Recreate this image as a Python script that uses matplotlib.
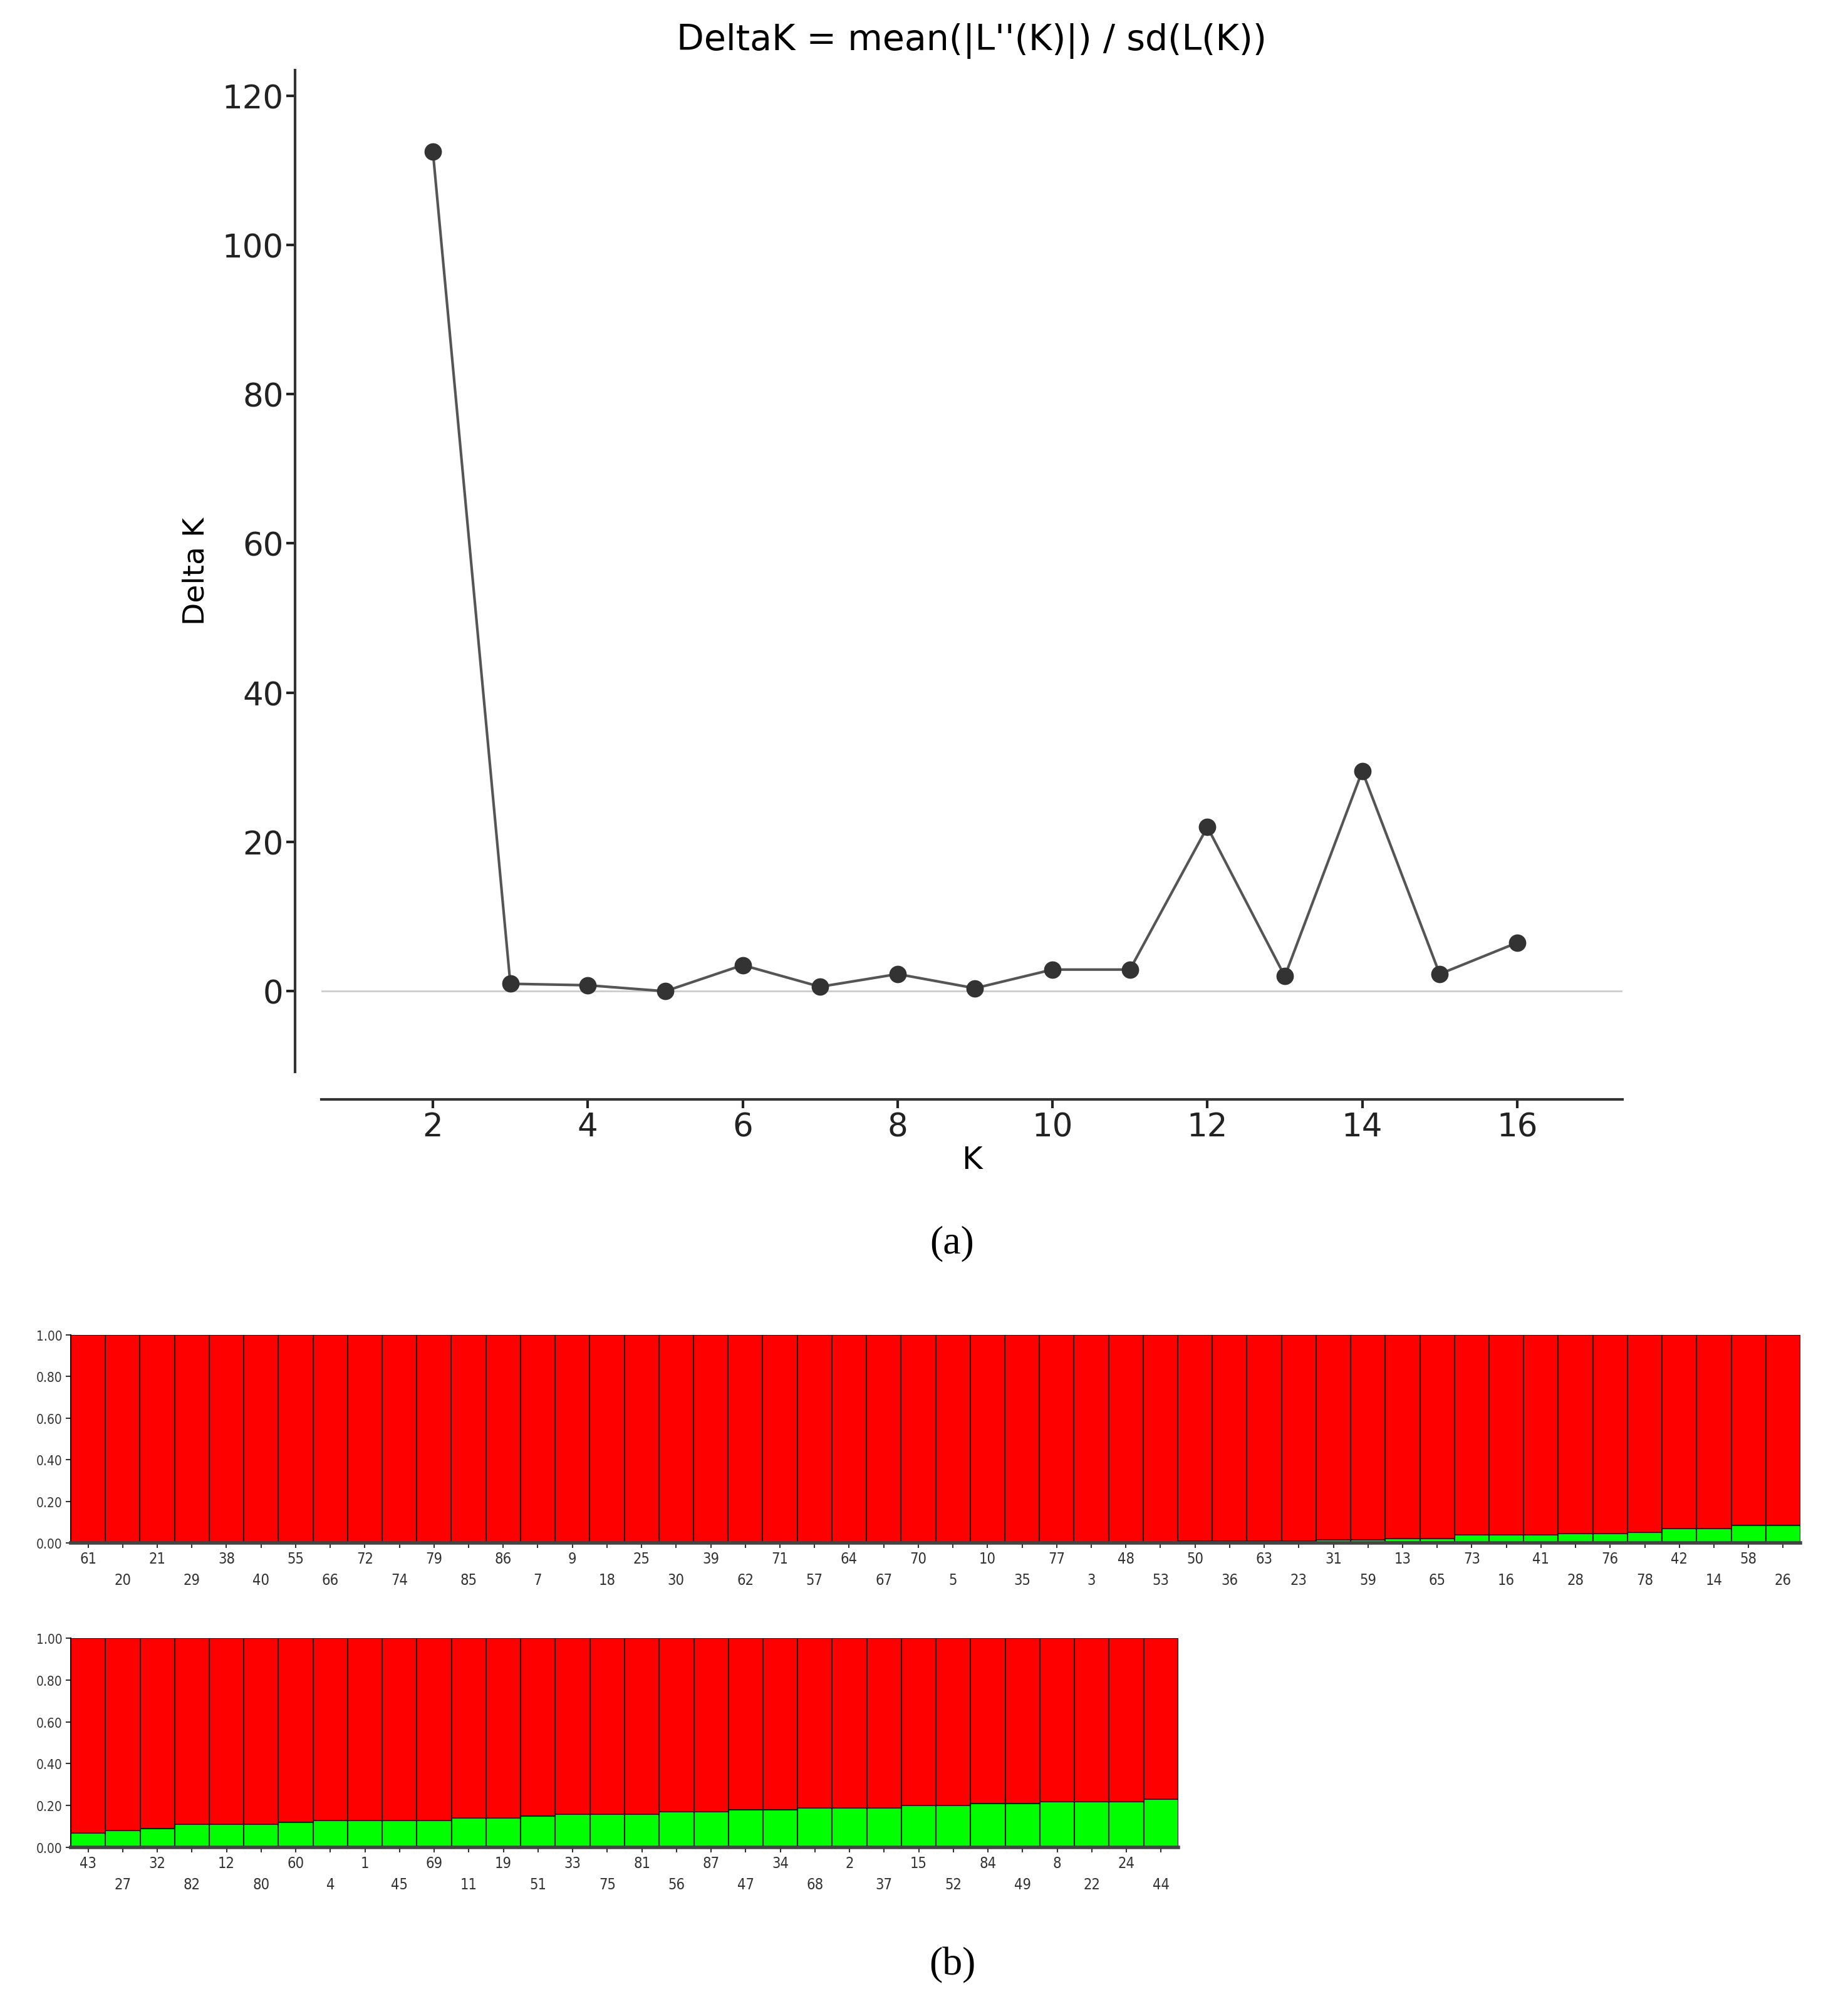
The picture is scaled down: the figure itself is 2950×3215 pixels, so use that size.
import matplotlib
matplotlib.use("Agg")
import matplotlib.pyplot as plt
import numpy as np

K = [2, 3, 4, 5, 6, 7, 8, 9, 10, 11, 12, 13, 14, 15, 16]
deltaK = [112.5, 1.0, 0.8, 0.0, 3.5, 0.6, 2.3, 0.4, 2.9, 2.9, 22.0, 2.0, 29.5, 2.3, 6.5]

labels1 = ["61", "20", "21", "29", "38", "40", "55", "66", "72", "74", "79", "85", "86", "7", "9", "18", "25",
           "30", "39", "62", "71", "57", "64", "67", "70", "5", "10", "35", "77", "3", "48", "53", "50", "36",
           "63", "23", "31", "59", "13", "65", "73", "16", "41", "28", "76", "78", "42", "14", "58", "26"]
green1 = [0.0] * 32 + [0.01, 0.01, 0.01, 0.01, 0.015, 0.015, 0.02, 0.02, 0.04, 0.04, 0.04, 0.045, 0.045,
                       0.05, 0.07, 0.07, 0.085, 0.085]
labels2 = ["43", "27", "32", "82", "12", "80", "60", "4", "1", "45", "69", "11", "19", "51", "33", "75", "81",
           "56", "87", "47", "34", "68", "2", "37", "15", "52", "84", "49", "8", "22", "24", "44"]
green2 = [0.07, 0.08, 0.09, 0.11, 0.11, 0.11, 0.12, 0.13, 0.13, 0.13, 0.13, 0.14, 0.14, 0.15, 0.16, 0.16,
          0.16, 0.17, 0.17, 0.18, 0.18, 0.19, 0.19, 0.19, 0.20, 0.20, 0.21, 0.21, 0.22, 0.22, 0.22, 0.23]
yticks_b = [0.0, 0.2, 0.4, 0.6, 0.8, 1.0]

W, H = 2950, 3216
fig = plt.figure(figsize=(W / 100, H / 100), dpi=100)

def ax_at(x0, y0, x1, y1):
    return fig.add_axes([x0 / W, 1 - y1 / H, (x1 - x0) / W, (y1 - y0) / H])

# (a)
ax = ax_at(513, 113, 2590, 1712)
ax.plot(K, deltaK, color="#555555", lw=3, marker="o", ms=19, mfc="#333333", mec="#333333", zorder=3)
ax.axhline(0, color="#cccccc", lw=2, zorder=1)
ax.set_ylim(-10.8, 123.4)
ax.set_xlim(0.56, 17.36)
ax.set_yticks([0, 20, 40, 60, 80, 100, 120])
ax.set_xticks([2, 4, 6, 8, 10, 12, 14, 16])
for s in ["top", "right"]:
    ax.spines[s].set_visible(False)
ax.spines["bottom"].set_position(("outward", 32))
ax.spines["left"].set_position(("outward", 30))
for s in ["bottom", "left"]:
    ax.spines[s].set_linewidth(3)
    ax.spines[s].set_color("#333333")
ax.tick_params(labelsize=37, width=3, length=10, colors="#222222")
ax.set_xlabel("K", fontsize=36, labelpad=2)
ax.set_ylabel("Delta K", fontsize=34, labelpad=14)
ax.set_title("DeltaK = mean(|L''(K)|) / sd(L(K))", fontsize=41, pad=24)
fig.text(1520 / W, 1 - 1985 / H, "(a)", fontsize=46, family="Liberation Serif", ha="center", va="center")
fig.text(1520 / W, 1 - 3137 / H, "(b)", fontsize=46, family="Liberation Serif", ha="center", va="center")

def bars(ax, labels, green):
    x = np.arange(len(labels))
    g = np.array(green)
    ax.bar(x, g, width=1.0, color="#00ff00", edgecolor="#1a1a1a", lw=1.5, align="edge")
    ax.bar(x, 1 - g, bottom=g, width=1.0, color="#ff0000", edgecolor="#1a1a1a", lw=1.5, align="edge")
    ax.set_xlim(0, len(labels))
    ax.set_ylim(0, 1.0)
    ax.set_yticks(yticks_b)
    ax.set_yticklabels([f"{v:.2f}" for v in yticks_b], fontsize=15, fontstretch="condensed")
    ax.set_xticks(x + 0.5)
    ax.set_xticklabels([(l if i % 2 == 0 else "\n" + l) for i, l in enumerate(labels)], fontsize=17,
                       fontstretch="condensed", linespacing=1.5)
    ax.tick_params(axis="both", length=6, width=1.5, colors="#333333")
    for s in ["top", "right"]:
        ax.spines[s].set_visible(False)
    ax.spines["bottom"].set_linewidth(4)
    ax.spines["bottom"].set_color("#444444")
    ax.spines["left"].set_linewidth(1.5)

bars(ax_at(113, 2132, 2874, 2464), labels1, green1)
bars(ax_at(113, 2616, 1881, 2950), labels2, green2)

fig.savefig("out.png", dpi=100, facecolor="white")
